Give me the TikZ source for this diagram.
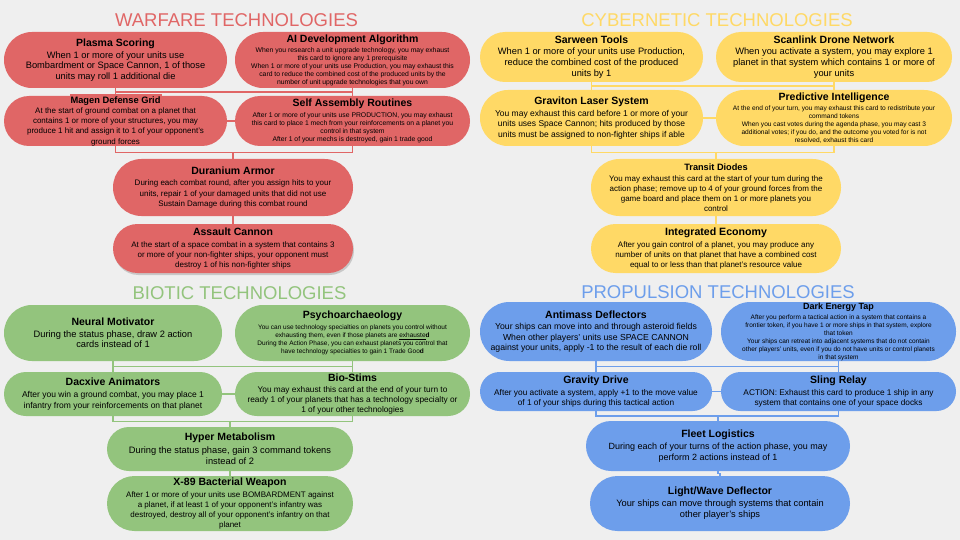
\documentclass[tikz,border=0pt]{standalone}
\usepackage{fontspec}
\setmainfont{Liberation Sans}
\usetikzlibrary{calc,shadows}
\definecolor{warred}{HTML}{E06666}
\definecolor{cybyel}{HTML}{FFD966}
\definecolor{biogrn}{HTML}{93C47D}
\definecolor{prpblu}{HTML}{6D9EEB}
\definecolor{bgcol}{HTML}{EFEFEF}
\newcommand\fs[2]{\fontsize{#1pt}{#2pt}\selectfont}
\newcommand\ctitle[2]{{\fs{#1}{#1}\bfseries #2}}
\tikzset{
  card/.style={rectangle, inner sep=0pt, align=center, text=black},
  link/.style={draw=#1, line width=1.2pt},
  sectitle/.style={inner sep=0pt, font=\fs{18.5}{20}},
}
\newcommand\quadlinks[7]{%
  \coordinate (#1h) at ($(#1.south)!0.5!(#3.north)$);
  \draw[link=#7] (#1.south) -- (#3.north);
  \draw[link=#7] (#2.south) -- (#4.north);
  \draw[link=#7] (#1.south |- #1h) -- (#2.south |- #1h);
  \draw[link=#7] (#3.east) -- (#4.west);
  \coordinate (#3h) at ($(#3.south)!0.5!(#5.north)$);
  \draw[link=#7] (#3.south) -- (#3.south |- #3h) -- (#4.south |- #3h) -- (#4.south);
  \draw[link=#7] (#5.north |- #3h) -- (#5.north);
  \draw[link=#7] (#5.south) |- ($(#5.south)!0.5!(#6.north)$) -| (#6.north);
}
\begin{document}
\begin{tikzpicture}[x=1pt,y=-1pt]
\fill[bgcol] (0,0) rectangle (960,540);
\useasboundingbox (0,0) rectangle (960,540);

% ---------------- WARFARE ----------------
\node[sectitle, text=warred] (wt) at (236.5,20) {WARFARE TECHNOLOGIES};
\node[card, fill=warred, minimum width=223pt, minimum height=56pt, rounded corners=28pt, font=\fs{9.3}{10.7}] (W1) at (115.5,60)
 {\ctitle{10.5}{Plasma Scoring}\\[1.3pt]
  When 1 or more of your units use\\
  Bombardment or Space Cannon, 1 of those\\
  units may roll 1 additional die};
\node[card, fill=warred, minimum width=235pt, minimum height=56pt, rounded corners=28pt, font=\fs{6.8}{8}] (W2) at (352.5,60)
 {\ctitle{10.5}{AI Development Algorithm}\\[2pt]
  When you research a unit upgrade technology, you may exhaust\\
  this card to ignore any 1 prerequisite\\
  When 1 or more of your units use Production, you may exhaust this\\
  card to reduce the combined cost of the produced units by the\\
  number of unit upgrade technologies that you own};
\fill[warred] (70,94.5) rectangle (162,106);
\node[card, fill=warred, minimum width=223pt, minimum height=50pt, rounded corners=25pt, font=\fs{8}{10.2}] (W3) at (115.5,121)
 {\ctitle{9.3}{Magen Defense Grid}\\[0.2pt]
  At the start of ground combat on a planet that\\
  contains 1 or more of your structures, you may\\
  produce 1 hit and assign it to 1 of your opponent's\\
  ground forces};
\node[card, fill=warred, minimum width=235pt, minimum height=50pt, rounded corners=25pt, font=\fs{6.8}{8.1}] (W4) at (352.5,121)
 {\ctitle{10.5}{Self Assembly Routines}\\[2.5pt]
  After 1 or more of your units use PRODUCTION, you may exhaust\\
  this card to place 1 mech from your reinforcements on a planet you\\
  control in that system\\
  After 1 of your mechs is destroyed, gain 1 trade good};
\node[card, fill=warred, minimum width=240pt, minimum height=57pt, rounded corners=28.5pt, font=\fs{8}{10.2}] (W5) at (233,187.5)
 {\ctitle{10.5}{Duranium Armor}\\[1.1pt]
  During each combat round, after you assign hits to your\\
  units, repair 1 of your damaged units that did not use\\
  Sustain Damage during this combat round};
\node[card, fill=warred, minimum width=240pt, minimum height=49pt, rounded corners=24.5pt, font=\fs{8}{10}, drop shadow={opacity=0.35, shadow xshift=1pt, shadow yshift=-2pt}] (W6) at (233,248.5)
 {\ctitle{10.5}{Assault Cannon}\\[1.6pt]
  At the start of a space combat in a system that contains 3\\
  or more of your non-fighter ships, your opponent must\\
  destroy 1 of his non-fighter ships};
\quadlinks{W1}{W2}{W3}{W4}{W5}{W6}{warred}

% ---------------- CYBERNETIC ----------------
\node[sectitle, text=cybyel] (ct) at (717,20) {CYBERNETIC TECHNOLOGIES};
\node[card, fill=cybyel, minimum width=223pt, minimum height=50pt, rounded corners=25pt, font=\fs{9.3}{10.8}] (C1) at (591.5,57)
 {\ctitle{10.5}{Sarween Tools}\\[0.5pt]
  When 1 or more of your units use Production,\\
  reduce the combined cost of the produced\\
  units by 1};
\node[card, fill=cybyel, minimum width=236pt, minimum height=50pt, rounded corners=25pt, font=\fs{9.3}{10.8}] (C2) at (834,57)
 {\ctitle{10.5}{Scanlink Drone Network}\\[1pt]
  When you activate a system, you may explore 1\\
  planet in that system which contains 1 or more of\\
  your units};
\node[card, fill=cybyel, minimum width=223pt, minimum height=56pt, rounded corners=28pt, font=\fs{8.5}{10.5}] (C3) at (591.5,118)
 {\ctitle{10.5}{Graviton Laser System}\\[1.5pt]
  You may exhaust this card before 1 or more of your\\
  units uses Space Cannon; hits produced by those\\
  units must be assigned to non-fighter ships if able};
\node[card, fill=cybyel, minimum width=236pt, minimum height=56pt, rounded corners=28pt, font=\fs{6.6}{8}] (C4) at (834,118)
 {\ctitle{10.5}{Predictive Intelligence}\\[2.7pt]
  At the end of your turn, you may exhaust this card to redistribute your\\
  command tokens\\
  When you cast votes during the agenda phase, you may cast 3\\
  additional votes; if you do, and the outcome you voted for is not\\
  resolved, exhaust this card};
\node[card, fill=cybyel, minimum width=250pt, minimum height=57pt, rounded corners=28.5pt, font=\fs{8}{10}] (C5) at (716,187.5)
 {\ctitle{9.2}{Transit Diodes}\\[1.4pt]
  You may exhaust this card at the start of your tum during the\\
  action phase; remove up to 4 of your ground forces from the\\
  game board and place them on 1 or more planets you\\
  control};
\node[card, fill=cybyel, minimum width=250pt, minimum height=49pt, rounded corners=24.5pt, font=\fs{8}{10}] (C6) at (716,248.5)
 {\ctitle{10.6}{Integrated Economy}\\[1.6pt]
  After you gain control of a planet, you may produce any\\
  number of units on that planet that have a combined cost\\
  equal to or less than that planet's resource value};
\quadlinks{C1}{C2}{C3}{C4}{C5}{C6}{cybyel}

% ---------------- BIOTIC ----------------
\node[sectitle, text=biogrn] (bt) at (239.5,293) {BIOTIC TECHNOLOGIES};
\node[card, fill=biogrn, minimum width=218pt, minimum height=56pt, rounded corners=28pt, font=\fs{9.3}{10.8}] (B1) at (113,333)
 {\ctitle{10.5}{Neural Motivator}\\[0.5pt]
  During the status phase, draw 2 action\\
  cards instead of 1};
\node[card, fill=biogrn, minimum width=235pt, minimum height=56pt, rounded corners=28pt, font=\fs{6.5}{8}] (B2) at (352.5,333)
 {\ctitle{10.5}{Psychoarchaeology}\\[2.7pt]
  You can use technology specialties on planets you control without\\
  exhausting them, even if those planets are \underline{exhauste}\textbf{d}\\
  During the Action Phase, you can exhaust planets you control that\\
  have technology specialties to gain 1 Trade Goo\textbf{d}};
\node[card, fill=biogrn, minimum width=218pt, minimum height=44pt, rounded corners=22pt, font=\fs{8.5}{11}] (B3) at (113,394)
 {\ctitle{10.5}{Dacxive Animators}\\[0.6pt]
  After you win a ground combat, you may place 1\\
  infantry from your reinforcements on that planet};
\node[card, fill=biogrn, minimum width=235pt, minimum height=44pt, rounded corners=22pt, font=\fs{8.3}{10}] (B4) at (352.5,394)
 {\ctitle{10.5}{Bio-Stims}\\[1pt]
  You may exhaust this card at the end of your turn to\\
  ready 1 of your planets that has a technology specialty or\\
  1 of your other technologies};
\node[card, fill=biogrn, minimum width=246pt, minimum height=44pt, rounded corners=22pt, font=\fs{9.3}{11}] (B5) at (230,449)
 {\ctitle{10.5}{Hyper Metabolism}\\[1.7pt]
  During the status phase, gain 3 command tokens\\
  instead of 2};
\node[card, fill=biogrn, minimum width=246pt, minimum height=55pt, rounded corners=27.5pt, font=\fs{8}{10}] (B6) at (230,503.5)
 {\ctitle{10.5}{X-89 Bacterial Weapon}\\[1.3pt]
  After 1 or more of your units use BOMBARDMENT against\\
  a planet, if at least 1 of your opponent's infantry was\\
  destroyed, destroy all of your opponent's infantry on that\\
  planet};
\quadlinks{B1}{B2}{B3}{B4}{B5}{B6}{biogrn}

% ---------------- PROPULSION ----------------
\node[sectitle, text=prpblu] (pt) at (718,292.5) {PROPULSION TECHNOLOGIES};
\node[card, fill=prpblu, minimum width=232pt, minimum height=59pt, rounded corners=29.5pt, font=\fs{8.7}{10.5}] (P1) at (596,331.5)
 {\ctitle{10.5}{Antimass Deflectors}\\[1.1pt]
  Your ships can move into and through asteroid fields\\
  When other players’ units use SPACE CANNON\\
  against your units, apply -1 to the result of each die roll};
\node[card, fill=prpblu, minimum width=235pt, minimum height=59pt, rounded corners=29.5pt, font=\fs{6.5}{8}] (P2) at (838.5,331.5)
 {\ctitle{9}{Dark Energy Tap}\\[2pt]
  After you perform a tactical action in a system that contains a\\
  frontier token, if you have 1 or more ships in that system, explore\\
  that token\\
  Your ships can retreat into adjacent systems that do not contain\\
  other players’ units, even if you do not have units or control planets\\
  in that system};
\node[card, fill=prpblu, minimum width=232pt, minimum height=39pt, rounded corners=19.5pt, font=\fs{8.3}{10}] (P3) at (596,391.5)
 {\ctitle{10.5}{Gravity Drive}\\[1.6pt]
  After you activate a system, apply +1 to the move value\\
  of 1 of your ships during this tactical action};
\node[card, fill=prpblu, minimum width=235pt, minimum height=39pt, rounded corners=19.5pt, font=\fs{8.3}{10}] (P4) at (838.5,391.5)
 {\ctitle{10.5}{Sling Relay}\\[1.6pt]
  ACTION: Exhaust this card to produce 1 ship in any\\
  system that contains one of your space docks};
\node[card, fill=prpblu, minimum width=264pt, minimum height=50pt, rounded corners=25pt, font=\fs{9}{11.3}] (P5) at (718,446)
 {\ctitle{10.5}{Fleet Logistics}\\[0.7pt]
  During each of your turns of the action phase, you may\\
  perform 2 actions instead of 1};
\node[card, fill=prpblu, minimum width=260pt, minimum height=55pt, rounded corners=27.5pt, font=\fs{9.3}{11}] (P6) at (720,503.5)
 {\ctitle{10.5}{Light/Wave Deflector}\\[1.3pt]
  Your ships can move through systems that contain\\
  other player’s ships};
\quadlinks{P1}{P2}{P3}{P4}{P5}{P6}{prpblu}
\end{tikzpicture}
\end{document}
